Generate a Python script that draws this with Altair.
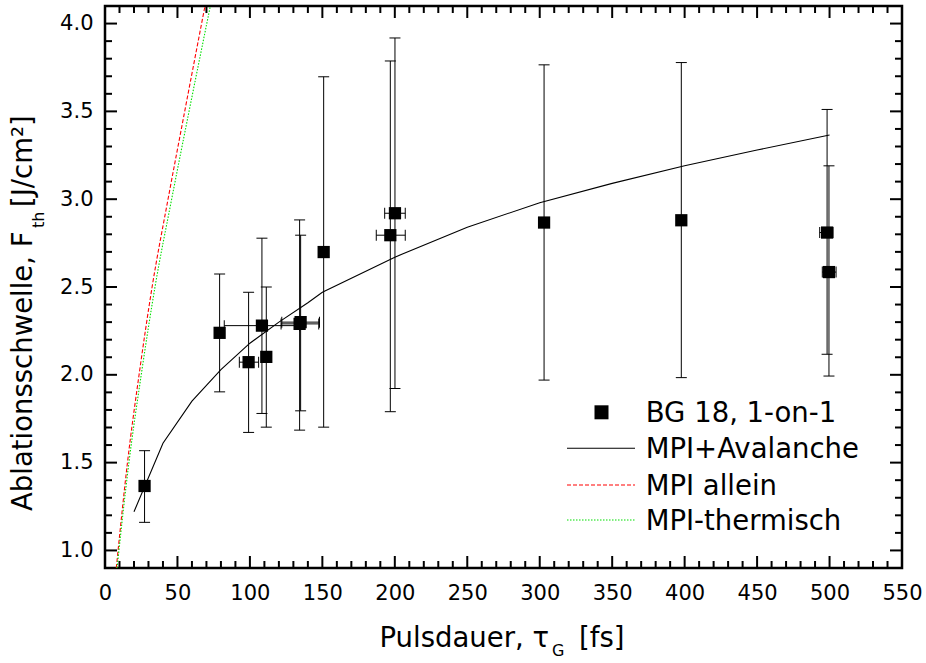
import altair as alt
import pandas as pd

# ---------------- data ----------------
tau = [27.3, 79.1, 99.1, 108.3, 111.3, 134.3, 135.0, 150.9, 196.9, 200.1, 303.0, 397.7, 498.3, 499.6]
f_th = [1.367, 2.239, 2.072, 2.280, 2.102, 2.290, 2.300, 2.699, 2.795, 2.920, 2.867, 2.880, 2.810, 2.585]
f_hi = [1.568, 2.574, 2.470, 2.778, 2.500, 2.882, 2.795, 3.697, 3.787, 3.918, 3.765, 3.778, 3.511, 3.190]
f_lo = [1.160, 1.903, 1.672, 1.780, 1.702, 1.685, 1.795, 1.702, 1.790, 1.922, 1.970, 1.984, 2.117, 1.993]
tau_lo = [None, None, 92.7, 82.3, None, 121.5, 122.0, None, 187.2, 193.0, None, None, 493.2, 495.0]
tau_hi = [None, None, 106.0, 134.3, None, 147.5, 148.0, None, 207.2, 207.2, None, None, 502.4, 504.5]

aval_tau = [20, 40, 60, 80, 100, 120, 140, 150, 200, 250, 300, 350, 400, 450, 500]
aval_f = [1.22, 1.61, 1.85, 2.03, 2.18, 2.30, 2.41, 2.47, 2.67, 2.84, 2.98, 3.09, 3.19, 3.28, 3.365]

mpi_tau = [7.8, 15.5, 23.5, 32.5, 43.5, 55.0, 69.0]
mpi_f = [0.90, 1.50, 2.00, 2.50, 3.00, 3.50, 4.10]

therm_tau = [8.3, 16.5, 25.0, 34.5, 46.0, 58.0, 72.7]
therm_f = [0.90, 1.50, 2.00, 2.50, 3.00, 3.50, 4.10]

x_major = [0, 50, 100, 150, 200, 250, 300, 350, 400, 450, 500, 550]
x_minor = [v for v in range(10, 550, 10) if v % 50 != 0]
y_major = [1.0, 1.5, 2.0, 2.5, 3.0, 3.5, 4.0]
y_minor = [round(1.0 + 0.1 * i, 1) for i in range(-1, 32) if i % 5 != 0]

legend_labels = ["BG 18, 1-on-1", "MPI+Avalanche", "MPI allein", "MPI-thermisch"]

# ---------------- layout ----------------
W, H = 797, 562
FONT = "DejaVu Sans"

xs = alt.Scale(domain=[0, 550], nice=False, zero=False)
ys = alt.Scale(domain=[0.9, 4.1], nice=False, zero=False)
xaxis = alt.Axis(values=x_major, title=None, ticks=False, domain=False, grid=False,
                 labelFontSize=21, labelFont=FONT, labelColor="black",
                 labelBaseline="alphabetic", labelPadding=31, labelFlush=False,
                 labelOverlap=False, format="d")
yaxis = alt.Axis(values=y_major, title=None, ticks=False, domain=False, grid=False,
                 labelFontSize=21, labelFont=FONT, labelColor="black",
                 labelPadding=12, labelFlush=False, labelOverlap=False, format=".1f")

pts = pd.DataFrame({"tau": tau, "f": f_th, "lo": f_lo, "hi": f_hi,
                    "tlo": tau_lo, "thi": tau_hi})
hpts = pts.dropna(subset=["tlo", "thi"])

X = lambda f: alt.X(f, type="quantitative", scale=xs, axis=xaxis)
Y = lambda f: alt.Y(f, type="quantitative", scale=ys, axis=yaxis)

# error bars
verr = alt.Chart(pts).mark_rule(color="black", strokeWidth=1).encode(
    x=X("tau"), y=Y("lo"), y2="hi")
vcap_hi = alt.Chart(pts).mark_tick(orient="horizontal", size=11, thickness=1, color="black", opacity=1).encode(
    x=X("tau"), y=Y("hi"))
vcap_lo = alt.Chart(pts).mark_tick(orient="horizontal", size=11, thickness=1, color="black", opacity=1).encode(
    x=X("tau"), y=Y("lo"))
herr = alt.Chart(hpts).mark_rule(color="black", strokeWidth=1).encode(
    x=X("tlo"), x2="thi", y=Y("f"))
hcap_lo = alt.Chart(hpts).mark_tick(orient="vertical", size=11, thickness=1, color="black", opacity=1).encode(
    x=X("tlo"), y=Y("f"))
hcap_hi = alt.Chart(hpts).mark_tick(orient="vertical", size=11, thickness=1, color="black", opacity=1).encode(
    x=X("thi"), y=Y("f"))
squares = alt.Chart(pts).mark_square(size=150, color="black", opacity=1, filled=True).encode(
    x=X("tau"), y=Y("f"))

# curves
aval = alt.Chart(pd.DataFrame({"t": aval_tau, "f": aval_f})).mark_line(
    color="black", strokeWidth=1.1, clip=True).encode(x=X("t"), y=Y("f"), order="t:Q")
mpi = alt.Chart(pd.DataFrame({"t": mpi_tau, "f": mpi_f})).mark_line(
    color="#ff0000", strokeWidth=1.1, strokeDash=[4, 2], clip=True, interpolate="monotone").encode(
    x=X("t"), y=Y("f"), order="t:Q")
therm = alt.Chart(pd.DataFrame({"t": therm_tau, "f": therm_f})).mark_line(
    color="#00e000", strokeWidth=1.1, strokeDash=[1.5, 1.5], clip=True, interpolate="monotone").encode(
    x=X("t"), y=Y("f"), order="t:Q")

# inward ticks on all four sides
def xticks(vals, length, top):
    d = pd.DataFrame({"v": vals})
    y0, y1 = (0, length) if top else (H, H - length)
    return alt.Chart(d).mark_rule(color="black", strokeWidth=2).encode(
        x=X("v"), y=alt.value(y0), y2=alt.value(y1))

def yticks(vals, length, right):
    d = pd.DataFrame({"v": vals})
    x0, x1 = (W, W - length) if right else (0, length)
    return alt.Chart(d).mark_rule(color="black", strokeWidth=2).encode(
        y=Y("v"), x=alt.value(x0), x2=alt.value(x1))

ticks = [xticks(x_major, 12, False), xticks(x_minor, 7, False),
         xticks(x_major, 12, True), xticks(x_minor, 7, True),
         yticks(y_major, 12, False), yticks(y_minor, 7, False),
         yticks(y_major, 12, True), yticks(y_minor, 7, True)]

# titles (with subscripts)
def txt(s, x, y, size, align="left", angle=0):
    return alt.Chart(pd.DataFrame({"s": [s]})).mark_text(
        align=align, baseline="alphabetic", fontSize=size, font=FONT,
        color="black", angle=angle).encode(x=alt.value(x), y=alt.value(y), text="s:N")

titles = [
    txt("Pulsdauer, \u03c4", 444, 640.5, 27.5, align="right"),
    txt("G", 447, 650, 16),
    txt("[fs]", 474, 640.5, 27.5),
    txt("Ablationsschwelle, F", -73, 505, 27.5, angle=270),
    txt("th", -61, 222, 16, angle=270),
    txt("[J/cm\u00b2]", -73, 201, 27.5, angle=270),
]

# legend (inside plot, lower right)
row_y = [406.3, 442.3, 479.0, 514.0]
lx0, lx1, ltx = 462, 530, 540.7
one = pd.DataFrame({"a": [0]})
leg = [
    alt.Chart(one).mark_square(size=196, color="black", opacity=1, filled=True).encode(
        x=alt.value(496.5), y=alt.value(row_y[0])),
    alt.Chart(one).mark_rule(color="black", strokeWidth=1.1).encode(
        x=alt.value(lx0), x2=alt.value(lx1), y=alt.value(row_y[1])),
    alt.Chart(one).mark_rule(color="#ff0000", strokeWidth=1.1, strokeDash=[4, 2]).encode(
        x=alt.value(lx0), x2=alt.value(lx1), y=alt.value(row_y[2])),
    alt.Chart(one).mark_rule(color="#00e000", strokeWidth=1.1, strokeDash=[1.5, 1.5]).encode(
        x=alt.value(lx0), x2=alt.value(lx1), y=alt.value(row_y[3])),
]
for lab, ry in zip(legend_labels, row_y):
    leg.append(txt(lab, ltx, ry + 10, 27.5))

chart = alt.layer(
    *ticks, mpi, therm, aval, verr, vcap_hi, vcap_lo, herr, hcap_lo, hcap_hi, squares,
    *leg, *titles
).properties(
    width=W, height=H,
    autosize=alt.AutoSizeParams(type="none"),
    padding={"left": 105, "top": 6, "right": 24, "bottom": 95},
    background="white",
).configure_view(stroke="black", strokeWidth=2.5)

chart.save("out.html", embed_options={"renderer": "svg", "actions": False})
